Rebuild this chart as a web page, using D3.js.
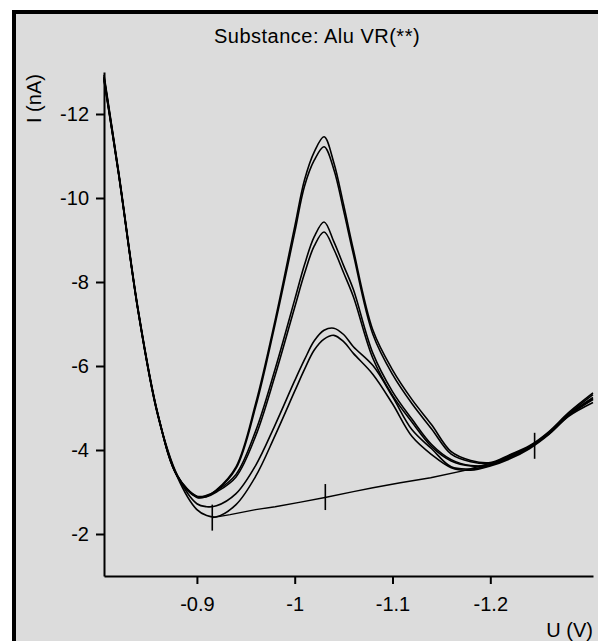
<!DOCTYPE html>
<html>
<head>
<meta charset="utf-8">
<script src="https://cdn.jsdelivr.net/npm/d3@7"></script>
<style>
  body { margin: 0; background: #fff; }
  svg { display: block; font-family: "Liberation Sans", Arial, sans-serif; }
</style>
</head>
<body>
<svg width="598" height="641"></svg>
<script>
// potential grid (V) shared by all scans
const voltage = [-0.805, -0.82, -0.84, -0.86, -0.88, -0.90, -0.91, -0.92, -0.94, -0.96,
  -0.98, -1.00, -1.01, -1.02, -1.03, -1.04, -1.05, -1.06, -1.08, -1.10,
  -1.12, -1.14, -1.16, -1.18, -1.20, -1.22, -1.24, -1.26, -1.28, -1.305];

// current (nA) of each scan
const scan1 = [-12.89, -10.60, -7.32, -4.86, -3.38, -2.89, -2.90, -3.05, -3.60, -5.10,
  -7.09, -9.32, -10.43, -11.10, -11.46, -10.84, -9.84, -8.77, -6.85, -5.91,
  -5.20, -4.60, -3.96, -3.75, -3.70, -3.89, -4.10, -4.44, -4.89, -5.36];
const scan2 = [-12.85, -10.58, -7.30, -4.85, -3.37, -2.88, -2.90, -3.03, -3.56, -5.02,
  -7.00, -9.18, -10.28, -10.90, -11.22, -10.68, -9.70, -8.66, -6.75, -5.80,
  -5.10, -4.50, -3.90, -3.72, -3.68, -3.87, -4.08, -4.42, -4.86, -5.32];
const scan3 = [-12.93, -10.62, -7.34, -4.87, -3.39, -2.90, -2.92, -3.03, -3.42, -4.45,
  -5.93, -7.58, -8.41, -9.08, -9.43, -8.96, -8.39, -7.82, -6.30, -5.39,
  -4.73, -4.13, -3.77, -3.63, -3.65, -3.84, -4.08, -4.41, -4.84, -5.25];
const scan4 = [-12.80, -10.56, -7.29, -4.84, -3.37, -2.87, -2.89, -3.00, -3.36, -4.33,
  -5.78, -7.40, -8.20, -8.86, -9.19, -8.78, -8.22, -7.65, -6.18, -5.30,
  -4.66, -4.08, -3.74, -3.62, -3.64, -3.83, -4.06, -4.39, -4.82, -5.22];
const scan5 = [-12.87, -10.58, -7.30, -4.84, -3.40, -2.72, -2.65, -2.67, -2.96, -3.63,
  -4.60, -5.65, -6.15, -6.60, -6.85, -6.90, -6.75, -6.46, -6.01, -5.27,
  -4.48, -4.03, -3.60, -3.55, -3.64, -3.82, -4.06, -4.39, -4.82, -5.20];
const scan6 = [-12.83, -10.55, -7.28, -4.82, -3.36, -2.58, -2.44, -2.41, -2.70, -3.37,
  -4.35, -5.40, -5.92, -6.38, -6.64, -6.73, -6.58, -6.30, -5.80, -5.10,
  -4.32, -3.89, -3.58, -3.52, -3.62, -3.79, -4.03, -4.37, -4.80, -5.13];

// peak baseline
const baseU = [-0.916, -0.934, -0.96, -0.98, -1.006, -1.031, -1.06, -1.08, -1.108, -1.139, -1.173, -1.21, -1.245];
const baseI = [-2.39, -2.46, -2.58, -2.65, -2.76, -2.87, -3.01, -3.10, -3.22, -3.34, -3.51, -3.75, -4.12];

// evaluation markers (start, peak, end)
const markU = [-0.9157, -1.0313, -1.2453];
const markI = [-2.39, -2.88, -4.10];

const yTicks = [-12, -10, -8, -6, -4, -2];
const xTicks = [-0.9, -1, -1.1, -1.2];

let svg = d3.select("svg");

// frame (right and bottom edges run off the picture)
svg.append("rect")
  .attr("x", 14)
  .attr("y", 12)
  .attr("width", 600)
  .attr("height", 650)
  .attr("fill", "#dcdcdc")
  .attr("stroke", "#000")
  .attr("stroke-width", 4);

let x = d3.scaleLinear().domain([-0.805, -1.305]).range([104, 593]);
let y = d3.scaleLinear().domain([-13, -1]).range([72, 576]);

let line = d3.line()
  .x((d, i) => x(voltage[i]))
  .y(d => y(d))
  .curve(d3.curveCatmullRom.alpha(0.5));

svg.append("g")
  .selectAll("path")
  .data([scan1, scan2, scan3, scan4, scan5, scan6])
  .enter()
  .append("path")
  .attr("d", line)
  .attr("fill", "none")
  .attr("stroke", "#000")
  .attr("stroke-width", 1.6);

let baseLine = d3.line()
  .x((d, i) => x(baseU[i]))
  .y(d => y(d));

svg.append("path")
  .attr("d", baseLine(baseI))
  .attr("fill", "none")
  .attr("stroke", "#000")
  .attr("stroke-width", 1.4);

svg.append("g")
  .selectAll("line")
  .data(markU)
  .enter()
  .append("line")
  .attr("x1", d => x(d))
  .attr("x2", d => x(d))
  .attr("y1", (d, i) => y(markI[i]) - 13)
  .attr("y2", (d, i) => y(markI[i]) + 13)
  .attr("stroke", "#000")
  .attr("stroke-width", 1.6);

// axes
let yAxis = svg.append("g")
  .attr("transform", "translate(104,0)")
  .call(d3.axisLeft(y).tickValues(yTicks).tickSize(8).tickPadding(7)
    .tickSizeOuter(0).tickFormat(d => String(d)));

let xAxis = svg.append("g")
  .attr("transform", "translate(0,576)")
  .call(d3.axisBottom(x).tickValues(xTicks).tickSize(8).tickPadding(13)
    .tickSizeOuter(0).tickFormat(d => String(d)));

[yAxis, xAxis].forEach(g => {
  g.attr("font-size", 20).attr("font-family", "Liberation Sans, Arial, sans-serif");
  g.selectAll("path, line").attr("stroke", "#000").attr("stroke-width", 2);
  g.selectAll("text").attr("fill", "#000");
});

// title and axis labels
svg.append("text")
  .attr("x", 317)
  .attr("y", 43)
  .attr("text-anchor", "middle")
  .attr("font-size", 20)
  .attr("letter-spacing", 0.5)
  .text("Substance: Alu VR(**)");

svg.append("text")
  .attr("transform", "translate(41,123) rotate(-90)")
  .attr("font-size", 20)
  .text("I (nA)");

svg.append("text")
  .attr("x", 593)
  .attr("y", 637)
  .attr("text-anchor", "end")
  .attr("font-size", 20)
  .text("U (V)");
</script>
</body>
</html>
